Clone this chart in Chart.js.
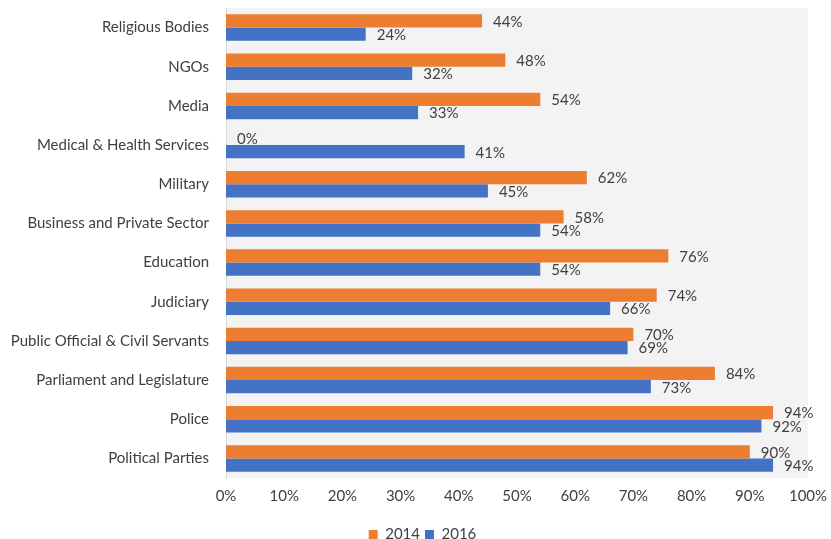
<!DOCTYPE html>
<html lang="en">
<head>
    <meta charset="UTF-8">
    <title>Trust in institutions 2014 vs 2016</title>
    <script src="https://cdn.jsdelivr.net/npm/chart.js"></script>
    <style>
        html, body { margin: 0; padding: 0; background: #fff; }
        #wrap { width: 831px; height: 539px; }
    </style>
</head>
<body>
<div id="wrap">
    <canvas id="grafico" width="831" height="539"></canvas>
</div>

<script>
    const categorias = [
        'Religious Bodies',
        'NGOs',
        'Media',
        'Medical & Health Services',
        'Military',
        'Business and Private Sector',
        'Education',
        'Judiciary',
        'Public Official & Civil Servants',
        'Parliament and Legislature',
        'Police',
        'Political Parties'
    ];
    const valores2014 = [44, 48, 54, 0, 62, 58, 76, 74, 70, 84, 94, 90];
    const valores2016 = [24, 32, 33, 41, 45, 54, 54, 66, 69, 73, 92, 94];
    const ticksX = [0, 10, 20, 30, 40, 50, 60, 70, 80, 90, 100];

    const fuente = "Lato, 'Open Sans', sans-serif";
    const gris = '#404040';

    // fondo gris del area de dibujo
    const fondoArea = {
        id: 'fondoArea',
        beforeDraw(chart) {
            const { ctx, chartArea: a } = chart;
            ctx.save();
            ctx.fillStyle = '#f3f3f3';
            ctx.fillRect(a.left, a.top, a.right - a.left, a.bottom - a.top);
            ctx.restore();
        }
    };

    // mover la leyenda un poco abajo y a la derecha
    const moverLeyenda = {
        id: 'moverLeyenda',
        afterLayout(chart) {
            if (chart.legend) {
                chart.legend.top += 13;
                chart.legend.bottom += 13;
                chart.legend.left += 10;
                chart.legend.right += 10;
            }
        }
    };

    // etiquetas de valor al final de cada barra
    const etiquetas = {
        id: 'etiquetas',
        afterDatasetsDraw(chart) {
            const ctx = chart.ctx;
            ctx.save();
            ctx.font = '15px ' + fuente;
            ctx.fillStyle = gris;
            ctx.textAlign = 'left';
            ctx.textBaseline = 'middle';
            chart.data.datasets.forEach((ds, i) => {
                const meta = chart.getDatasetMeta(i);
                meta.data.forEach((bar, j) => {
                    ctx.fillText(ds.data[j] + '%', bar.x + 11, bar.y + 1);
                });
            });
            ctx.restore();
        }
    };

    new Chart(document.getElementById('grafico'), {
        type: 'bar',
        data: {
            labels: categorias,
            datasets: [
                {
                    label: '2014',
                    data: valores2014,
                    backgroundColor: '#ED7D31',
                    barPercentage: 1,
                    categoryPercentage: 0.675
                },
                {
                    label: '2016',
                    data: valores2016,
                    backgroundColor: '#4472C4',
                    barPercentage: 1,
                    categoryPercentage: 0.675
                }
            ]
        },
        options: {
            indexAxis: 'y',
            responsive: false,
            animation: false,
            layout: { padding: { top: 8, right: 6, bottom: 0, left: 0 } },
            plugins: {
                legend: {
                    position: 'bottom',
                    labels: {
                        boxWidth: 9,
                        boxHeight: 9,
                        padding: 5,
                        color: gris,
                        font: { family: fuente, size: 15 }
                    }
                },
                tooltip: { enabled: false }
            },
            scales: {
                x: {
                    min: 0,
                    max: 100,
                    afterBuildTicks(scale) {
                        scale.ticks = ticksX.map(v => ({ value: v }));
                    },
                    ticks: {
                        callback: v => v + '%',
                        color: gris,
                        padding: 9,
                        font: { family: fuente, size: 15 }
                    },
                    grid: { display: false, drawTicks: false },
                    border: { display: false },
                    afterFit(scale) {
                        scale.height = 31;
                        scale.paddingLeft = 0;
                        scale.paddingRight = 23;
                    }
                },
                y: {
                    ticks: {
                        color: gris,
                        padding: 17,
                        font: { family: fuente, size: 15 }
                    },
                    grid: { display: false, drawTicks: false },
                    border: { display: true, color: '#d9d9d9' },
                    afterFit(scale) {
                        scale.width = 226;
                        scale.paddingTop = 0;
                        scale.paddingBottom = 0;
                    }
                }
            }
        },
        plugins: [fondoArea, moverLeyenda, etiquetas]
    });
</script>
</body>
</html>
